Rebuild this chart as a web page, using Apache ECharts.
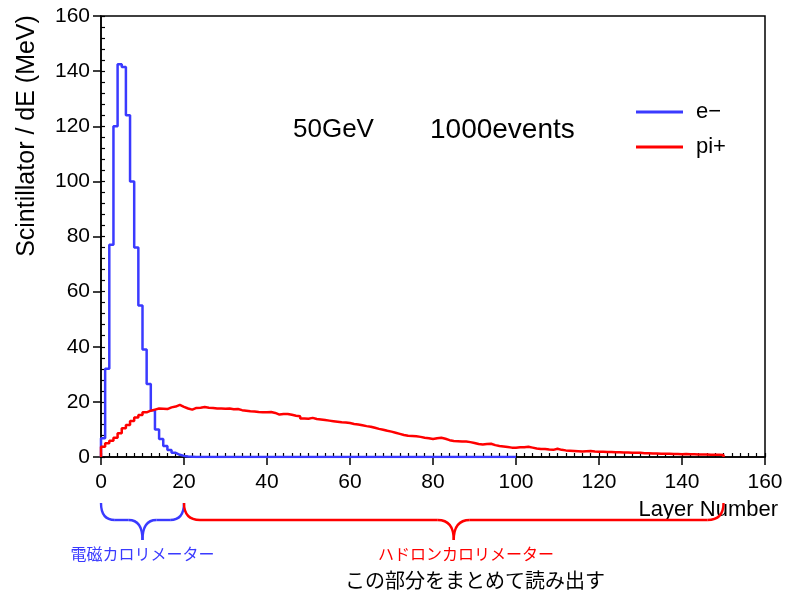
<!DOCTYPE html>
<html><head><meta charset="utf-8">
<script src="https://cdn.jsdelivr.net/npm/echarts@6/dist/echarts.min.js"></script>
<style>html,body{margin:0;padding:0;background:#fff}#c{width:787px;height:596px}</style>
</head><body><div id="c"></div>
<script>
// ---- data ----
const seriesNames = ['e−', 'pi+'];
// e- energy deposit per layer (layers 0..99)
const eMinus = [6.8, 32, 77, 120, 142.5, 141.5, 124, 100, 76, 55,
  39, 26.5, 17, 10, 6.5, 4, 2.5, 1.5, 0.8, 0.4,
  0.2, 0.1, 0, 0, 0, 0, 0, 0, 0, 0,
  0, 0, 0, 0, 0, 0, 0, 0, 0, 0,
  0, 0, 0, 0, 0, 0, 0, 0, 0, 0,
  0, 0, 0, 0, 0, 0, 0, 0, 0, 0,
  0, 0, 0, 0, 0, 0, 0, 0, 0, 0,
  0, 0, 0, 0, 0, 0, 0, 0, 0, 0,
  0, 0, 0, 0, 0, 0, 0, 0, 0, 0,
  0, 0, 0, 0, 0, 0, 0, 0, 0, 0];
// pi+ energy deposit per layer (layers 0..149)
const piPlus = [3.7, 5.0, 5.9, 7.0, 8.6, 10.4, 11.6, 13.1, 14.3, 15.2,
  16.2, 16.8, 17.2, 17.6, 17.5, 17.4, 18.0, 18.3, 18.9, 18.2,
  17.6, 17.2, 17.8, 17.9, 18.1, 17.9, 17.8, 17.6, 17.6, 17.5,
  17.6, 17.3, 17.4, 17.0, 16.8, 16.6, 16.5, 16.3, 16.2, 16.2,
  16.3, 16.0, 15.4, 15.6, 15.6, 15.3, 15.0, 14.8, 14.0, 13.9,
  14.2, 13.8, 13.6, 13.4, 13.2, 13.0, 12.8, 12.6, 12.5, 12.3,
  12.0, 11.8, 11.5, 11.2, 11.0, 10.6, 10.2, 9.9, 9.5, 9.2,
  8.8, 8.4, 8.0, 7.7, 7.6, 7.5, 7.3, 7.0, 6.8, 6.5,
  6.8, 7.0, 6.6, 6.1, 5.8, 5.7, 5.6, 5.6, 5.4, 5.1,
  4.7, 4.5, 4.7, 4.8, 4.3, 4.0, 3.8, 3.6, 3.4, 3.4,
  3.5, 3.5, 3.7, 3.4, 3.1, 2.9, 2.9, 2.7, 2.6, 3.0,
  2.6, 2.4, 2.3, 2.2, 2.1, 2.0, 2.1, 2.2, 2.0, 1.9,
  1.9, 1.8, 1.8, 1.7, 1.7, 1.6, 1.6, 1.5, 1.5, 1.5,
  1.4, 1.4, 1.3, 1.3, 1.2, 1.2, 1.2, 1.1, 1.1, 1.0,
  1.1, 1.0, 1.0, 0.9, 0.9, 0.9, 0.8, 0.8, 0.8, 0.7];
const xRange = [0, 160];
const yRange = [0, 160];
const tickStep = 20;
const titleParts = ['50GeV', '1000events'];
const xName = 'Layer Number';
const yName = 'Scintillator / dE (MeV)';
const emLabel = '電磁カロリメーター';
const hadLabel = 'ハドロンカロリメーター';
const readLabel = 'この部分をまとめて読み出す';
const emRange = [0, 20];
const hadRange = [20, 150];

// ---- chart ----
const BLUE = '#3a3aff', RED = '#ff0000';
const FONT = 'Liberation Sans, Arial, sans-serif';
const JP = '"Noto Sans CJK JP", sans-serif';

function histPoints(vals) {
  const pts = [[0, 0]];
  vals.forEach((v, i) => pts.push([i, v]));
  pts.push([vals.length, vals[vals.length - 1]]);
  pts.push([vals.length, 0]);
  return pts;
}

const chart = echarts.init(document.getElementById('c'), null, {renderer: 'canvas'});
const axisLineStyle = {color: '#000', width: 1.5};
const option = {
  animation: false,
  backgroundColor: '#fff',
  grid: {left: 101, right: 22, top: 16, bottom: 139, show: true, borderColor: '#000', borderWidth: 1.5, backgroundColor: 'transparent'},
  legend: {
    orient: 'vertical', left: 636, top: 101, padding: 0, itemWidth: 47, itemHeight: 3, itemGap: 13,
    icon: 'rect',
    textStyle: {fontSize: 22, color: '#000', fontFamily: FONT, padding: [0, 0, 0, 8]},
    data: seriesNames
  },
  xAxis: [
    {type: 'value', min: xRange[0], max: xRange[1], interval: tickStep,
      axisLine: {lineStyle: axisLineStyle}, axisTick: {inside: false, length: 8, lineStyle: axisLineStyle},
      axisLabel: {margin: 15, fontSize: 21, color: '#000', fontFamily: FONT}, splitLine: {show: false}},
    {type: 'value', min: xRange[0], max: xRange[1], interval: tickStep, position: 'bottom',
      axisLine: {show: false}, axisTick: {inside: true, length: 4, lineStyle: {color: '#000', width: 1.2}},
      minorTick: {show: true, splitNumber: 10, length: 4, lineStyle: {color: '#000', width: 1.2}},
      axisLabel: {show: false}, splitLine: {show: false}}
  ],
  yAxis: [
    {type: 'value', min: yRange[0], max: yRange[1], interval: tickStep,
      axisLine: {lineStyle: axisLineStyle}, axisTick: {inside: false, length: 8, lineStyle: axisLineStyle},
      axisLabel: {margin: 11, fontSize: 21, color: '#000', fontFamily: FONT}, splitLine: {show: false}},
    {type: 'value', min: yRange[0], max: yRange[1], interval: tickStep, position: 'left',
      axisLine: {show: false}, axisTick: {inside: true, length: 4, lineStyle: {color: '#000', width: 1.2}},
      minorTick: {show: true, splitNumber: 5, length: 4, lineStyle: {color: '#000', width: 1.2}},
      axisLabel: {show: false}, splitLine: {show: false}}
  ],
  series: [
    {name: seriesNames[0], type: 'line', step: 'end', xAxisIndex: 0, yAxisIndex: 0, showSymbol: false,
      lineStyle: {color: BLUE, width: 2.5}, itemStyle: {color: BLUE}, data: histPoints(eMinus), z: 3},
    {name: seriesNames[1], type: 'line', step: 'end', xAxisIndex: 0, yAxisIndex: 0, showSymbol: false,
      lineStyle: {color: RED, width: 2.5}, itemStyle: {color: RED}, data: histPoints(piPlus), z: 4}
  ]
};
chart.setOption(option);

function px(x) { return chart.convertToPixel({xAxisIndex: 0}, x); }
function brace(r, yTop, yBar, yTip, color) {
  const xL = px(r[0]), xR = px(r[1]), xM = (xL + xR) / 2;
  const rr = Math.min(16, (xR - xL) / 6);
  const st = {stroke: color, lineWidth: 2.4, fill: null};
  const curve = (x1, y1, cx, cy, x2, y2) => ({type: 'bezierCurve', shape: {x1, y1, x2, y2, cpx1: cx, cpy1: cy}, style: st});
  const line = (x1, y1, x2, y2) => ({type: 'line', shape: {x1, y1, x2, y2}, style: st});
  return [
    curve(xL, yTop, xL, yBar, xL + rr, yBar),
    line(xL + rr, yBar, xM - rr, yBar),
    curve(xM - rr, yBar, xM, yBar, xM, yTip),
    curve(xM, yTip, xM, yBar, xM + rr, yBar),
    line(xM + rr, yBar, xR - rr, yBar),
    curve(xR - rr, yBar, xR, yBar, xR, yTop)
  ];
}
const emMid = (px(emRange[0]) + px(emRange[1])) / 2;
chart.setOption({
  graphic: [
    {type: 'text', x: 27, y: 136, rotation: Math.PI / 2,
      style: {text: yName, font: '25px ' + FONT, fill: '#000', textAlign: 'center', textVerticalAlign: 'middle'}},
    {type: 'text', x: 778, y: 510,
      style: {text: xName, font: '22px ' + FONT, fill: '#000', textAlign: 'right', textVerticalAlign: 'middle'}},
    {type: 'text', x: 293, y: 130,
      style: {text: titleParts[0], font: '26px ' + FONT, fill: '#000', textAlign: 'left', textVerticalAlign: 'middle'}},
    {type: 'text', x: 430, y: 130,
      style: {text: titleParts[1], font: '28px ' + FONT, fill: '#000', textAlign: 'left', textVerticalAlign: 'middle'}},
    ...brace(emRange, 503, 520, 540, BLUE),
    ...brace(hadRange, 503, 520, 540, RED),
    {type: 'text', x: emMid, y: 554,
      style: {text: emLabel, font: '16px ' + JP, fill: BLUE, textAlign: 'center', textVerticalAlign: 'middle'}},
    {type: 'text', x: 466, y: 554,
      style: {text: hadLabel, font: '16px ' + JP, fill: RED, textAlign: 'center', textVerticalAlign: 'middle'}},
    {type: 'text', x: 475, y: 580,
      style: {text: readLabel, font: '20px ' + JP, fill: '#000', textAlign: 'center', textVerticalAlign: 'middle'}}
  ]
});
</script></body></html>
